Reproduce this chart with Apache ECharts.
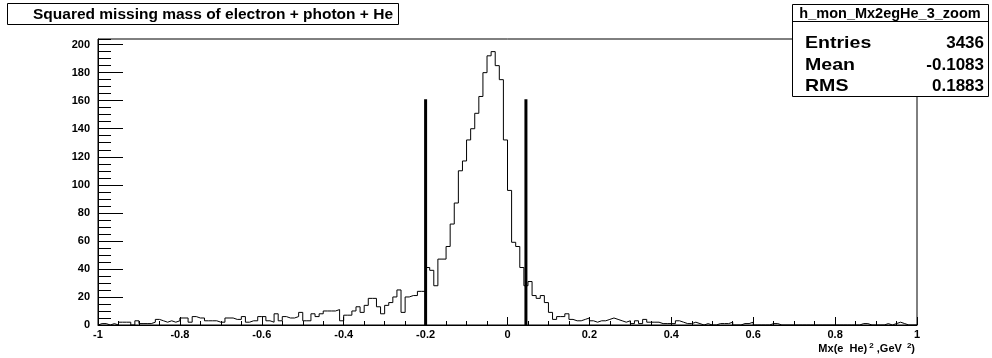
<!DOCTYPE html>
<html><head><meta charset="utf-8">
<script src="https://cdn.jsdelivr.net/npm/echarts@6/dist/echarts.min.js"></script>
<style>html,body{margin:0;padding:0;background:#fff}#c{width:992px;height:358px}</style>
</head><body><div id="c"></div>
<script>
// ---- data ----
const binLow = -1;
const binWidth = 0.01;
const counts = [
  1,1,0,1,0,2,2,2,0,3,
  1,1,1,2,4,3,2,3,2,3,
  5,5,2,6,5,5,3,3,3,2,
  2,5,5,4,4,6,2,3,3,6,
  6,3,2,8,3,6,5,5,6,9,
  3,3,8,6,8,10,10,10,11,3,
  7,7,10,13,9,14,19,19,13,8,
  14,16,20,25,9,20,21,21,24,24,
  41,39,28,47,47,56,72,87,110,117,
  132,140,151,163,180,192,195,185,175,132,
  96,59,56,41,28,31,21,19,21,16,
  9,4,6,6,8,4,3,3,4,5,
  3,2,3,3,4,5,4,3,2,3,
  1,3,1,4,2,2,2,1,1,1,
  1,3,2,1,1,2,1,0,1,0,
  0,1,1,1,2,0,0,1,1,2,
  0,0,0,0,1,1,0,0,0,0,
  0,0,0,0,0,0,0,0,0,0,
  0,0,0,0,0,0,1,1,0,0,
  0,0,1,0,1,2,1,0,0,0
];
const cutPositions = [-0.2, 0.045];
const cutHeight = 161;
const xTickLabels = ['-1','-0.8','-0.6','-0.4','-0.2','0','0.2','0.4','0.6','0.8','1'];
const yTickLabels = ['0','20','40','60','80','100','120','140','160','180','200'];
const histName = 'h_mon_Mx2egHe_3_zoom';
const statsNames = ['Entries','Mean','RMS'];
const statsValues = ['3436','-0.1083','0.1883'];
const titleText = 'Squared missing mass of electron + photon + He';

// ---- build ----
const stepData = [[binLow, 0]];
counts.forEach((c, i) => stepData.push([binLow + i * binWidth, c]));
stepData.push([binLow + counts.length * binWidth, counts[counts.length - 1]]);
stepData.push([binLow + counts.length * binWidth, 0]);

const FONT = '"Liberation Sans", Arial, sans-serif';
const chart = echarts.init(document.getElementById('c'), null, {renderer: 'canvas'});

const cutSeries = cutPositions.map(x => ({
  type: 'line', data: [[x, 0], [x, cutHeight]], symbol: 'none', silent: true,
  lineStyle: {color: '#000', width: 3}, z: 5, animation: false
}));

const statGraphics = [];
statsNames.forEach((n, i) => {
  const yy = [43, 65, 86][i];
  statGraphics.push({type: 'text', x: 805, y: yy, z: 101, scaleX: 1.15,
    style: {text: n, font: 'bold 17px ' + FONT, fill: '#000', textAlign: 'left', textVerticalAlign: 'middle'}});
  statGraphics.push({type: 'text', x: 984, y: yy, z: 101,
    style: {text: statsValues[i], font: 'bold 17px ' + FONT, fill: '#000', textAlign: 'right', textVerticalAlign: 'middle'}});
});

const option = {
  backgroundColor: '#fff',
  animation: false,
  grid: {left: 98, right: 75, top: 39, bottom: 33, show: true, borderColor: '#000', borderWidth: 1, backgroundColor: 'transparent'},
  xAxis: [{
    type: 'value', min: -1, max: 1, interval: 0.2,
    axisLine: {show: true, onZero: false, lineStyle: {color: '#000', width: 1}},
    axisTick: {show: true, inside: true, length: 8, lineStyle: {color: '#000'}},
    splitLine: {show: false},
    axisLabel: {show: true, margin: 4, color: '#000', fontFamily: FONT, fontWeight: 'bold', fontSize: 11,
      formatter: v => { const k = Math.round((v - binLow) / 0.2); return Math.abs(binLow + k * 0.2 - v) < 1e-6 ? xTickLabels[k] : ''; }}
  }, {
    type: 'value', min: -1, max: 1, interval: 0.05, position: 'bottom',
    axisLine: {show: false, onZero: false}, splitLine: {show: false}, axisLabel: {show: false},
    axisTick: {show: true, inside: true, length: 4, lineStyle: {color: '#000'}}
  }],
  yAxis: [{
    type: 'value', min: 0, max: 204, interval: 20,
    axisLine: {show: true, onZero: false, lineStyle: {color: '#000', width: 1}},
    axisTick: {show: true, inside: true, length: 25, lineStyle: {color: '#000'}},
    splitLine: {show: false},
    axisLabel: {show: true, margin: 8, showMaxLabel: false, color: '#000', fontFamily: FONT, fontWeight: 'bold', fontSize: 11,
      formatter: v => (v % 20 === 0 && v / 20 < yTickLabels.length) ? yTickLabels[v / 20] : ''}
  }, {
    type: 'value', min: 0, max: 204, interval: 5, position: 'left',
    axisLine: {show: false, onZero: false}, splitLine: {show: false}, axisLabel: {show: false},
    axisTick: {show: true, inside: true, length: 13, lineStyle: {color: '#000'}}
  }],
  series: [{
    type: 'line', step: 'end', data: stepData, symbol: 'none', silent: true,
    lineStyle: {color: '#000', width: 1}, z: 4, animation: false
  }].concat(cutSeries),
  graphic: [
    {type: 'rect', z: 100, shape: {x: 7.5, y: 3.5, width: 391, height: 21}, style: {fill: '#fff', stroke: '#000', lineWidth: 1}},
    {type: 'text', z: 101, x: 213, y: 14.5, style: {text: titleText, font: 'bold 15.5px ' + FONT, fill: '#000', textAlign: 'center', textVerticalAlign: 'middle'}},
    {type: 'rect', z: 100, shape: {x: 792.5, y: 4.5, width: 196, height: 92}, style: {fill: '#fff', stroke: '#000', lineWidth: 1}},
    {type: 'line', z: 101, shape: {x1: 792.5, y1: 21.5, x2: 988.5, y2: 21.5}, style: {stroke: '#000', lineWidth: 1}},
    {type: 'text', z: 101, x: 890, y: 13.5, style: {text: histName, font: 'bold 14.5px ' + FONT, fill: '#000', textAlign: 'center', textVerticalAlign: 'middle'}},
    {type: 'text', z: 101, x: 915, y: 349, style: {
      text: 'Mx(e  He){s|2} ,GeV {s|2})', font: 'bold 11px ' + FONT, fill: '#000', textAlign: 'right', textVerticalAlign: 'middle',
      rich: {s: {font: 'bold 8px ' + FONT, fill: '#000', verticalAlign: 'top', padding: [0, 0, 6, 2]}}
    }}
  ].concat(statGraphics)
};
chart.setOption(option);
</script>
</body></html>
